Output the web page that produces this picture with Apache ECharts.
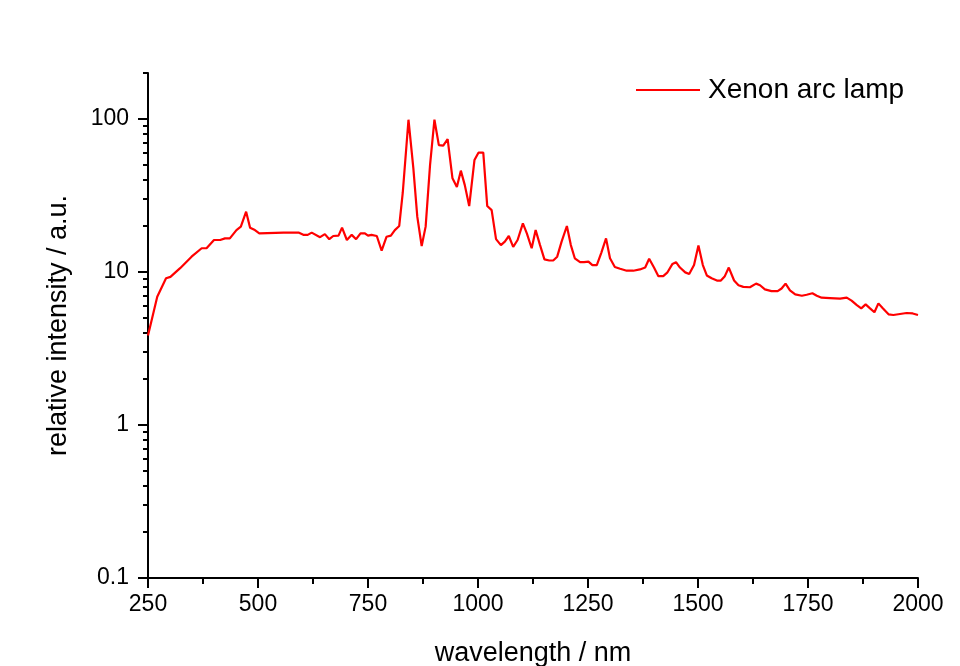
<!DOCTYPE html>
<html>
<head>
<meta charset="utf-8">
<script src="https://cdn.jsdelivr.net/npm/echarts@6/dist/echarts.min.js"></script>
<style>
html,body{margin:0;padding:0;background:#fff;}
#chart{width:960px;height:666px;}
</style>
</head>
<body>
<div id="chart"></div>
<script>
const seriesName = 'Xenon arc lamp';
const xTitle = 'wavelength / nm';
const yTitle = 'relative intensity / a.u.';

const wavelength = [250,271,291,301,323,349,372,383,400,414,425,436,451,461,473,482,493,503,558,592,603,613,622,641,652,662,671,683,691,702,713,723,733,743,750,758,770,781,792,802,811,821,829,842,853,862,872,881,891,901,911,921,931,942,952,961,970,980,992,1001,1012,1021,1031,1041,1052,1061,1070,1080,1090,1102,1111,1122,1131,1141,1151,1162,1171,1180,1190,1202,1211,1220,1232,1241,1251,1260,1270,1280,1291,1300,1311,1323,1338,1353,1368,1380,1389,1400,1410,1421,1430,1442,1450,1459,1471,1480,1491,1501,1511,1520,1531,1543,1552,1561,1570,1582,1592,1603,1618,1632,1641,1652,1667,1681,1690,1699,1709,1721,1736,1747,1760,1770,1781,1800,1823,1838,1849,1861,1871,1881,1891,1901,1910,1920,1933,1944,1959,1974,1988,2000];
const intensity = [3.85,6.9,9.1,9.3,10.6,12.6,14.3,14.3,16.2,16.2,16.6,16.6,18.8,19.8,24.8,19.5,18.8,17.9,18.1,18.1,17.5,17.5,18.1,16.9,17.7,16.4,17.2,17.3,19.5,16.2,17.5,16.4,17.9,17.9,17.3,17.5,17.2,13.8,17.0,17.3,18.8,20,33,99,48,23,14.8,19.8,50,99,67.6,67,74,41,36,46,37,27,54,60.3,60.3,27,25.4,16.4,15,15.8,17.2,14.6,16.2,20.8,17.9,14.3,18.8,15,12.1,11.9,11.9,12.6,15.8,20,15,12.3,11.6,11.6,11.7,11.1,11.1,13.3,16.6,12.3,10.8,10.5,10.2,10.2,10.4,10.7,12.2,10.7,9.4,9.4,9.9,11.3,11.6,10.7,9.95,9.7,11.1,14.9,11.1,9.5,9.1,8.8,8.8,9.4,10.7,8.8,8.2,8.0,7.95,8.4,8.2,7.7,7.5,7.5,7.8,8.4,7.6,7.15,7.0,7.1,7.26,7.0,6.8,6.76,6.7,6.8,6.5,6.08,5.79,6.15,5.79,5.46,6.24,5.79,5.29,5.24,5.32,5.4,5.36,5.24];

const xMin = 250, xMax = 2000, xInterval = 250;
const yMin = 0.1, yMax = 200;
const majorTickValues = [0.1, 1, 10, 100];
const minorTickValues = [0.2,0.3,0.4,0.5,0.6,0.7,0.8,0.9,2,3,4,5,6,7,8,9,20,30,40,50,60,70,80,90,200];

const FONT = "'Liberation Sans', Arial, sans-serif";
const chart = echarts.init(document.getElementById('chart'), null, {renderer: 'canvas'});

const lg = v => Math.log10(v);
const tickAxisBase = {
  type: 'value', position: 'left', min: lg(yMin), max: lg(yMax),
  axisLine: {show: false, onZero: false}, axisLabel: {show: false},
  splitLine: {show: false}, silent: true
};

chart.setOption({
  backgroundColor: '#ffffff',
  animation: false,
  grid: {left: 148, right: 42, top: 73, bottom: 88, outerBoundsMode: 'none', containLabel: false},
  legend: {
    data: [{name: seriesName, icon: 'rect'}], left: 636, top: 76, padding: 0,
    itemWidth: 64, itemHeight: 2,
    textStyle: {fontFamily: FONT, fontSize: 28, color: '#000', padding: [0,0,0,3]}
  },
  xAxis: {
    type: 'value', min: xMin, max: xMax, interval: xInterval,
    name: xTitle, nameLocation: 'middle', nameGap: 62,
    nameTextStyle: {fontFamily: FONT, fontSize: 27, color: '#000'},
    axisLine: {onZero: false, lineStyle: {color: '#000', width: 2}},
    axisTick: {show: true, inside: false, length: 10, lineStyle: {color: '#000', width: 2}},
    minorTick: {show: true, splitNumber: 2, length: 6, lineStyle: {color: '#000', width: 2}},
    axisLabel: {fontFamily: FONT, fontSize: 23, color: '#000', margin: 15, formatter: v => String(v)},
    splitLine: {show: false}, minorSplitLine: {show: false}
  },
  yAxis: [
    {
      type: 'log', logBase: 10, min: yMin, max: yMax, position: 'left',
      name: yTitle, nameLocation: 'middle', nameGap: 76, nameRotate: 90,
      nameTextStyle: {fontFamily: FONT, fontSize: 27, color: '#000'},
      axisLine: {onZero: false, lineStyle: {color: '#000', width: 2}},
      axisTick: {show: false},
      axisLabel: {
        fontFamily: FONT, fontSize: 23, color: '#000', margin: 19,
        formatter: v => { const l = Math.log10(v); return Math.abs(l - Math.round(l)) < 1e-6 ? String(+v.toPrecision(6)) : ''; }
      },
      splitLine: {show: false}
    },
    Object.assign({}, tickAxisBase, {
      axisTick: {show: true, inside: false, length: 10, customValues: majorTickValues.map(lg), lineStyle: {color: '#000', width: 2}}
    }),
    Object.assign({}, tickAxisBase, {
      axisTick: {show: true, inside: false, length: 5, customValues: minorTickValues.map(lg), lineStyle: {color: '#000', width: 2}}
    })
  ],
  series: [{
    name: seriesName, type: 'line', xAxisIndex: 0, yAxisIndex: 0,
    data: wavelength.map((w, i) => [w, intensity[i]]),
    symbol: 'none', showSymbol: false,
    lineStyle: {color: '#ff0000', width: 2.2}, itemStyle: {color: '#ff0000'}
  }]
});
</script>
</body>
</html>
